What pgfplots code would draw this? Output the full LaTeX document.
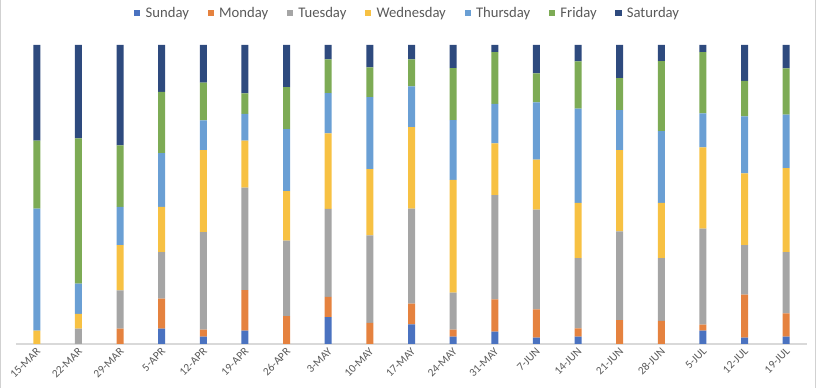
\documentclass[border=0pt]{standalone}
\usepackage{pgfplots}
\pgfplotsset{compat=1.18}
\usepackage{fontspec}
\setmainfont{Carlito}

\definecolor{csun}{HTML}{4A72C0}
\definecolor{cmon}{HTML}{E5823F}
\definecolor{ctue}{HTML}{A5A5A5}
\definecolor{cwed}{HTML}{F7C143}
\definecolor{cthu}{HTML}{6A9FD4}
\definecolor{cfri}{HTML}{7DAB55}
\definecolor{csat}{HTML}{2E4A7E}
\definecolor{txt}{HTML}{595959}

\begin{document}
\begin{tikzpicture}[x=0.75pt,y=0.75pt]
\begin{axis}[
    at={(12pt,33pt)}, anchor=south west,
    scale only axis,
    width=593.25pt, height=224.25pt,
    ybar stacked,
    bar width=5.25pt,
    xmin=-0.5, xmax=18.5,
    ymin=0, ymax=100,
    xtick={0,...,18},
    xticklabels={15-MAR,22-MAR,29-MAR,5-APR,12-APR,19-APR,26-APR,3-MAY,10-MAY,17-MAY,24-MAY,31-MAY,7-JUN,14-JUN,21-JUN,28-JUN,5-JUL,12-JUL,19-JUL},
    xticklabel style={rotate=45, anchor=east, font=\fontsize{8.5}{9}\selectfont, text=txt, inner sep=1pt, yshift=-4pt, xshift=-1pt},
    major tick length=0pt,
    ytick=\empty,
    axis y line=none,
    axis x line*=bottom,
    x axis line style={draw=black!15, line width=0.8pt, -},
    legend columns=7,
    legend style={at={(0.4956,1.0)}, anchor=center, yshift=24pt,
        draw=none, fill=none, font=\fontsize{11}{12}\selectfont, text=txt,
        inner sep=0pt,
        /tikz/every odd column/.append style={column sep=2pt},
        /tikz/every even column/.append style={column sep=12pt}},
    legend image code/.code={\fill[#1] (0pt,-2.3pt) rectangle (4.6pt,2.3pt);},
    legend cell align=left,
    every axis plot/.append style={draw=none},
]
% share of each weekday (percent) per week
\addplot[fill=csun] coordinates {(0,0) (1,0) (2,0) (3,5.1) (4,2.5) (5,4.5) (6,0) (7,9.0) (8,0) (9,6.6) (10,2.5) (11,4.1) (12,2.1) (13,2.5) (14,0) (15,0) (16,4.5) (17,2.1) (18,2.5)};
\addplot[fill=cmon] coordinates {(0,0) (1,0) (2,5.1) (3,10.1) (4,2.3) (5,13.5) (6,9.3) (7,6.8) (8,7.1) (9,6.9) (10,2.3) (11,10.8) (12,9.5) (13,2.7) (14,8.0) (15,7.7) (16,2.0) (17,14.4) (18,7.7)};
\addplot[fill=ctue] coordinates {(0,0) (1,5.1) (2,12.8) (3,15.5) (4,32.6) (5,34.3) (6,25.3) (7,29.4) (8,29.2) (9,31.8) (10,12.4) (11,34.9) (12,33.3) (13,23.5) (14,29.7) (15,21.0) (16,32.1) (17,16.6) (18,20.5)};
\addplot[fill=cwed] coordinates {(0,4.5) (1,5.0) (2,15.2) (3,15.2) (4,27.4) (5,15.7) (6,16.5) (7,25.2) (8,22.2) (9,27.2) (10,37.7) (11,17.3) (12,16.8) (13,18.5) (14,27.1) (15,18.5) (16,27.2) (17,24.0) (18,28.1)};
\addplot[fill=cthu] coordinates {(0,40.8) (1,10.1) (2,12.8) (3,17.9) (4,10.0) (5,9.0) (6,20.8) (7,13.5) (8,24.1) (9,13.7) (10,20.0) (11,13.2) (12,19.1) (13,31.5) (14,13.4) (15,24.0) (16,11.3) (17,19.0) (18,17.9)};
\addplot[fill=cfri] coordinates {(0,22.7) (1,48.6) (2,20.5) (3,20.5) (4,12.6) (5,6.8) (6,14.0) (7,11.3) (8,9.9) (9,9.0) (10,17.4) (11,17.3) (12,9.7) (13,15.8) (14,10.7) (15,23.4) (16,20.5) (17,11.9) (18,15.5)};
\addplot[fill=csat] coordinates {(0,32.0) (1,31.2) (2,33.6) (3,15.7) (4,12.6) (5,16.2) (6,14.1) (7,4.8) (8,7.5) (9,4.8) (10,7.7) (11,2.4) (12,9.5) (13,5.5) (14,11.1) (15,5.4) (16,2.4) (17,12.0) (18,7.8)};
\legend{Sunday,Monday,Tuesday,Wednesday,Thursday,Friday,Saturday}
\end{axis}
\draw[black!18] (0.5,0) -- (0.5,388);
\draw[black!18] (815.5,0) -- (815.5,388);
\pgfresetboundingbox
\useasboundingbox (0,0) rectangle (817,388);
\end{tikzpicture}
\end{document}
